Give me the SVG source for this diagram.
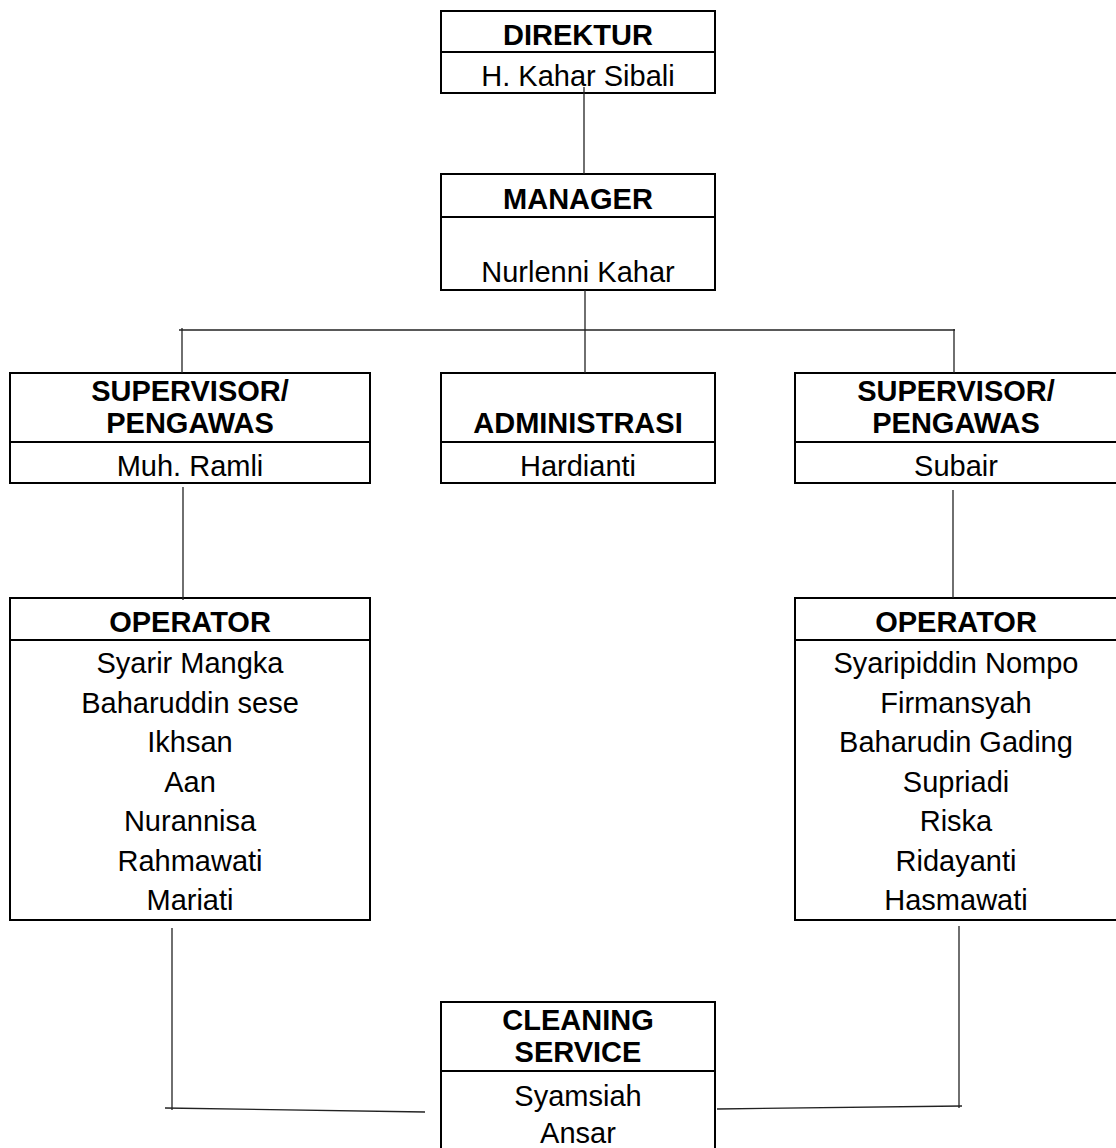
<svg xmlns="http://www.w3.org/2000/svg" width="1116" height="1148" viewBox="0 0 1116 1148">
<style>
.box{fill:#fff;stroke:#000;stroke-width:2}
.div{stroke:#000;stroke-width:2}
.h{font-family:"Liberation Sans",Arial,sans-serif;font-weight:bold;font-size:29px;text-anchor:middle;fill:#000}
.t{font-family:"Liberation Sans",Arial,sans-serif;font-size:29px;text-anchor:middle;fill:#000}
.c{stroke:#222;stroke-width:1.3;fill:none}
</style>
<rect width="1116" height="1148" fill="#fff"/>
<g id="direktur">
<rect class="box" x="441" y="11" width="274" height="82"/>
<line class="div" x1="441" y1="52" x2="715" y2="52"/>
<text class="h" x="578" y="45">DIREKTUR</text>
<text class="t" x="578" y="86">H. Kahar Sibali</text>
</g>
<g id="manager">
<rect class="box" x="441" y="174" width="274" height="116"/>
<line class="div" x1="441" y1="217" x2="715" y2="217"/>
<text class="h" x="578" y="209">MANAGER</text>
<text class="t" x="578" y="282">Nurlenni Kahar</text>
</g>
<g id="supervisor-left">
<rect class="box" x="10" y="373" width="360" height="110"/>
<line class="div" x1="10" y1="442" x2="370" y2="442"/>
<text class="h" x="190" y="401">SUPERVISOR/</text>
<text class="h" x="190" y="433">PENGAWAS</text>
<text class="t" x="190" y="476">Muh. Ramli</text>
</g>
<g id="administrasi">
<rect class="box" x="441" y="373" width="274" height="110"/>
<line class="div" x1="441" y1="442" x2="715" y2="442"/>
<text class="h" x="578" y="433">ADMINISTRASI</text>
<text class="t" x="578" y="476">Hardianti</text>
</g>
<g id="supervisor-right">
<rect class="box" x="795" y="373" width="323" height="110"/>
<line class="div" x1="795" y1="442" x2="1118" y2="442"/>
<text class="h" x="956" y="401">SUPERVISOR/</text>
<text class="h" x="956" y="433">PENGAWAS</text>
<text class="t" x="956" y="476">Subair</text>
</g>
<g id="operator-left">
<rect class="box" x="10" y="598" width="360" height="322"/>
<line class="div" x1="10" y1="640" x2="370" y2="640"/>
<text class="h" x="190" y="632">OPERATOR</text>
<text class="t" x="190" y="673">Syarir Mangka</text>
<text class="t" x="190" y="712.5">Baharuddin sese</text>
<text class="t" x="190" y="752">Ikhsan</text>
<text class="t" x="190" y="791.5">Aan</text>
<text class="t" x="190" y="831">Nurannisa</text>
<text class="t" x="190" y="870.5">Rahmawati</text>
<text class="t" x="190" y="910">Mariati</text>
</g>
<g id="operator-right">
<rect class="box" x="795" y="598" width="323" height="322"/>
<line class="div" x1="795" y1="640" x2="1118" y2="640"/>
<text class="h" x="956" y="632">OPERATOR</text>
<text class="t" x="956" y="673">Syaripiddin Nompo</text>
<text class="t" x="956" y="712.5">Firmansyah</text>
<text class="t" x="956" y="752">Baharudin Gading</text>
<text class="t" x="956" y="791.5">Supriadi</text>
<text class="t" x="956" y="831">Riska</text>
<text class="t" x="956" y="870.5">Ridayanti</text>
<text class="t" x="956" y="910">Hasmawati</text>
</g>
<g id="cleaning-service">
<rect class="box" x="441" y="1002" width="274" height="160"/>
<line class="div" x1="441" y1="1071" x2="715" y2="1071"/>
<text class="h" x="578" y="1030">CLEANING</text>
<text class="h" x="578" y="1062">SERVICE</text>
<text class="t" x="578" y="1106">Syamsiah</text>
<text class="t" x="578" y="1143">Ansar</text>
</g>
<g id="connectors">
<line class="c" x1="584" y1="87" x2="584" y2="174"/>
<line class="c" x1="585" y1="290" x2="585" y2="373"/>
<line class="c" x1="179" y1="330" x2="955" y2="330"/>
<line class="c" x1="182" y1="328" x2="182" y2="373"/>
<line class="c" x1="954" y1="329" x2="954" y2="373"/>
<line class="c" x1="183" y1="487" x2="183" y2="600"/>
<line class="c" x1="953" y1="490" x2="953" y2="598"/>
<line class="c" x1="172" y1="928" x2="172" y2="1110"/>
<line class="c" x1="165" y1="1108" x2="425" y2="1112"/>
<line class="c" x1="959" y1="926" x2="959" y2="1108"/>
<line class="c" x1="717" y1="1109" x2="962" y2="1106"/>
</g>
</svg>
